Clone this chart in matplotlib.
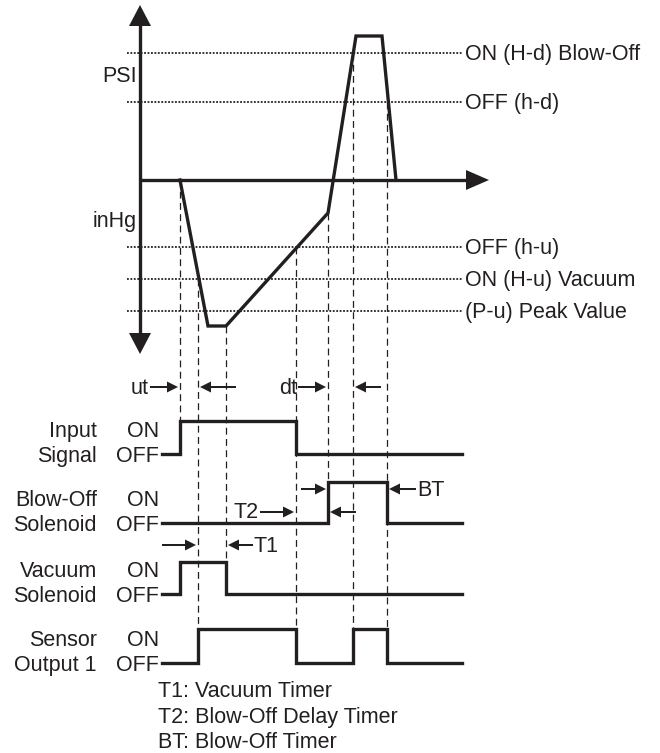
import matplotlib
matplotlib.use('Agg')
import matplotlib.pyplot as plt

INK = '#231f20'
plt.rcParams['font.family'] = ['Liberation Sans', 'DejaVu Sans']

# event times on the shared time axis (diagram units)
event_t = [180, 198, 226, 296, 328, 353, 387]
# where each dashed guide starts (on the pressure curve) and stops (on a signal)
dash_top = [180, 279, 326, 247, 213, 53, 102]
dash_bottom = [421, 629, 562, 629, 482, 629, 629]

# pressure curve (y grows downward = vacuum)
press_t = [180, 208, 226, 328, 356, 382, 396]
press_v = [180, 326, 326, 213, 36, 36, 180]
axis_level = 180

threshold_names = ['ON (H-d) Blow-Off', 'OFF (h-d)', 'OFF (h-u)', 'ON (H-u) Vacuum', '(P-u) Peak Value']
threshold_v = [53, 102, 247, 279, 311]

signal_names = [('Input', 'Signal'), ('Blow-Off', 'Solenoid'), ('Vacuum', 'Solenoid'), ('Sensor', 'Output 1')]
signal_on = [421, 482, 562, 629]
signal_off = [454, 523, 594, 663]
signal_edges = [[180, 296], [328, 387], [180, 226], [198, 296, 353, 387]]
t_start, t_end = 162, 462

notes = ['T1: Vacuum Timer', 'T2: Blow-Off Delay Timer', 'BT: Blow-Off Timer']

fig = plt.figure(figsize=(6.6, 7.53), dpi=100)
ax = fig.add_axes([0, 0, 1, 1])
ax.set_xlim(0, 660)
ax.set_ylim(753, 0)
ax.axis('off')

fs = 15.5

# axes of the pressure plot
ax.plot([140, 140], [24, 335], color=INK, lw=2.4, solid_capstyle='butt')
ax.plot([140, 468], [axis_level, axis_level], color=INK, lw=2.4, solid_capstyle='butt')
ax.fill([129, 151, 140], [26, 26, 5], color=INK, lw=0)
ax.fill([129, 151, 140], [333, 333, 354], color=INK, lw=0)
ax.fill([466, 466, 489], [170, 190, 180], color=INK, lw=0)
ax.text(137, 82, 'PSI', ha='right', va='baseline', fontsize=fs, color=INK)
ax.text(137, 227, 'inHg', ha='right', va='baseline', fontsize=fs, color=INK)

# threshold dotted lines
for name, v in zip(threshold_names, threshold_v):
    ax.plot([127, 463], [v, v], color=INK, lw=1.3, linestyle=(0, (1, 0.9)))
    ax.text(465, v + 6.5, name, ha='left', va='baseline', fontsize=fs, color=INK)

# dashed guides
for t, y0, y1 in zip(event_t, dash_top, dash_bottom):
    ax.plot([t, t], [y0, y1], color=INK, lw=0.9, linestyle=(0, (5.5, 3.5)))

# pressure curve
ax.plot(press_t, press_v, color=INK, lw=2.4, solid_joinstyle='miter')

# digital signals
for (top, bot), on, off, edges in zip(signal_names, signal_on, signal_off, signal_edges):
    xs, ys = [t_start], [off]
    state = off
    for t in edges:
        xs += [t, t]
        ys += [state, on if state == off else off]
        state = ys[-1]
    xs.append(t_end)
    ys.append(state)
    ax.plot(xs, ys, color=INK, lw=2.4, solid_joinstyle='miter')
    ax.text(97, off - 17, top, ha='right', va='baseline', fontsize=fs, color=INK)
    ax.text(97, off + 8, bot, ha='right', va='baseline', fontsize=fs, color=INK)
    ax.text(159, off - 17, 'ON', ha='right', va='baseline', fontsize=fs, color=INK)
    ax.text(159, off + 8, 'OFF', ha='right', va='baseline', fontsize=fs, color=INK)


def timing_arrow(t, y, side, length, label=None):
    # side = -1: arrow comes from the left, +1: from the right
    start = t + side * (length + 2)
    end = t + side * 2
    ax.arrow(start, y, end - start, 0, width=2.0, head_width=11, head_length=11,
             length_includes_head=True, color=INK, lw=0)
    if label:
        if side < 0:
            ax.text(start - 1, y + 6.5, label, ha='right', va='baseline', fontsize=fs, color=INK)
        else:
            ax.text(start + 1, y + 6.5, label, ha='left', va='baseline', fontsize=fs, color=INK)


timing_arrow(event_t[0], 387, -1, 28, 'ut')
timing_arrow(event_t[1], 387, 1, 36)
timing_arrow(event_t[4], 387, -1, 28, 'dt')
timing_arrow(event_t[5], 387, 1, 26)
timing_arrow(event_t[4], 489, -1, 25)
timing_arrow(event_t[6], 489, 1, 27, 'BT')
timing_arrow(event_t[3], 512, -1, 34, 'T2')
timing_arrow(event_t[4], 512, 1, 26)
timing_arrow(event_t[1], 545, -1, 34)
timing_arrow(event_t[2], 545, 1, 25, 'T1')

for i, note in enumerate(notes):
    ax.text(158, 697 + i * 25.5, note, ha='left', va='baseline', fontsize=fs, color=INK)

fig.savefig('out.png', dpi=100)
